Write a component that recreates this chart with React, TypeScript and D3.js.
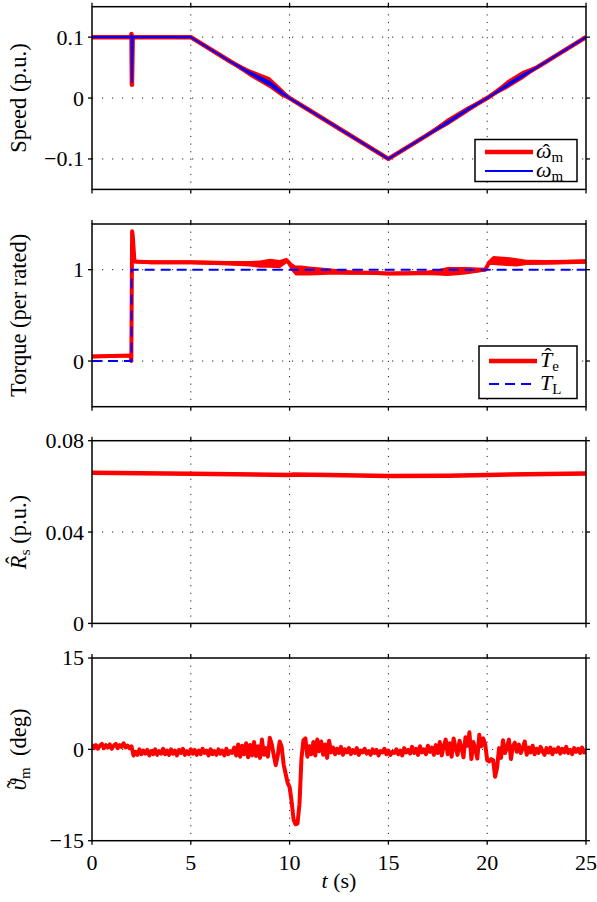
import React from 'react';
import * as d3 from 'd3';

// time axis
const xTicks = [0, 5, 10, 15, 20, 25];

// speed (p.u.): measured omega_m and estimate, plus half-width of the estimate's ripple
const speedT = [0, 1.98, 2.0, 2.02, 2.06, 5, 7, 8, 9, 9.6, 10, 11, 15, 17, 18, 19, 20, 21, 21.8, 22.5, 25];
const speedMeas = [0.1, 0.1, 0.104, 0.025, 0.1, 0.1, 0.06, 0.041, 0.024, 0.009, 0, -0.02, -0.1, -0.06, -0.04, -0.019, 0, 0.021, 0.037, 0.05, 0.1];
const speedEst = [0.1, 0.1, 0.105, 0.022, 0.1, 0.1, 0.06, 0.041, 0.025, 0.009, 0, -0.02, -0.1, -0.06, -0.039, -0.019, 0, 0.022, 0.038, 0.05, 0.1];
const speedRipple = [0.002, 0.002, 0, 0, 0.002, 0.002, 0.003, 0.006, 0.009, 0.007, 0.003, 0.003, 0.002, 0.003, 0.006, 0.005, 0.002, 0.007, 0.007, 0.003, 0.002];
const speedTicks = [-0.1, 0, 0.1];
const speedTickLabels = ['\u22120.1', '0', '0.1'];

// torque (per rated): estimate, its ripple, and load torque
const torqueT = [0, 1.95, 1.99, 2.03, 2.06, 2.15, 3, 5, 7, 8, 8.5, 9, 9.5, 9.85, 9.95, 10.1, 10.3, 10.6, 11, 12, 13, 14, 15, 16, 17, 17.5, 18, 18.5, 19, 19.5, 19.9, 20.1, 20.3, 21, 21.5, 22, 23, 24, 25];
const torqueEst = [0.05, 0.06, 0.0, 1.42, 1.38, 1.09, 1.08, 1.08, 1.07, 1.065, 1.06, 1.07, 1.06, 1.1, 1.08, 1.03, 0.99, 0.99, 0.985, 0.98, 0.97, 0.965, 0.958, 0.96, 0.965, 0.97, 0.98, 0.985, 0.99, 0.995, 1.0, 1.08, 1.1, 1.09, 1.08, 1.08, 1.08, 1.085, 1.09];
const torqueRipple = [0.02, 0.02, 0, 0, 0, 0.02, 0.02, 0.02, 0.025, 0.03, 0.04, 0.05, 0.045, 0.03, 0.03, 0.045, 0.055, 0.055, 0.05, 0.035, 0.025, 0.02, 0.02, 0.02, 0.025, 0.035, 0.05, 0.045, 0.04, 0.03, 0.02, 0.03, 0.05, 0.05, 0.045, 0.03, 0.025, 0.025, 0.025];
const loadT = [0, 2, 2, 25];
const loadV = [0, 0, 1, 1];
const torqueTicks = [0, 1];
const torqueTickLabels = ['0', '1'];

// stator resistance estimate (p.u.)
const rsT = [0, 5, 10, 10.2, 12, 15, 18, 20, 22, 25];
const rsEst = [0.066, 0.0655, 0.065, 0.0652, 0.065, 0.0645, 0.0647, 0.065, 0.0653, 0.0656];
const rsTicks = [0, 0.04, 0.08];
const rsTickLabels = ['0', '0.04', '0.08'];

// rotor angle error (deg), sampled every 0.1 s
const thetaStep = 0.1;
const thetaErr = [
  0.8, 0.2, 0.7, 0.1, 0.6, 0.9, 0.2, 0.7, 0.3, 0.8, 0.1, 0.6, 0.9, 0.2, 0.7, 0.4, 1.0, 0.3, 0.6, 0.2, 0.5,
  -1.0, -0.4, -0.9, 0.0, -0.8, -0.2, -0.7, -0.1, -1.0, -0.3,
  -0.8, 0.0, -0.9, -0.3, -0.7, 0.1, -0.8, -0.2, -0.9, 0.0,
  -0.7, -0.2, -1.0, -0.1, -0.6, 0.1, -0.9, -0.3, -0.8, 0.0,
  -0.7, -0.1, -0.9, -0.2, -0.8, 0.1, -0.6, -0.2, -1.0, 0.0,
  -0.8, -0.3, -0.9, 0.0, -0.7, -0.2, -1.0, 0.1, -0.8, -0.3,
  -0.6, 0.3, -1.0, 0.8, -1.2, 0.6, -0.8, 1.0, -1.3, 0.7,
  -1.0, 1.2, -1.1, 0.5, -1.4, 1.6, -0.9, 0.2, -1.2, 1.9,
  0.8, -1.0, -2.6, -1.0, 1.3, 0.4, -2.5, -4.0, -5.5, -6.2,
  -8.5, -11.5, -12.3, -12.2, -9.0,
  -1.5, 1.5, 1.8, -1.2, 0.5, -0.8, 1.2, -1.0, 1.6, -0.3, 1.3, -0.9, 0.8, -1.4, 1.4,
  -0.5, 0.3, -0.8, 0.1, -0.6, 0.4, -0.9, 0.0, -0.5, 0.2,
  -0.8, -0.1, -0.6, 0.2, -0.9, -0.2, -0.5, 0.1, -0.7, -0.3,
  -0.9, 0.0, -0.6, -0.1, -1.0, -0.3, -0.5, 0.1, -0.8, -0.2,
  -0.9, -0.4, -0.6, 0.0, -0.8, -0.2, -1.0, 0.2, -0.5, -0.1,
  -0.7, 0.4, -0.6, 0.1, -0.9, 0.5, -0.5, 0.0, -0.8, 0.6,
  -0.4, 0.3, -0.9, 0.7,
  -0.6, 1.2, -1.0, 0.5, 1.6, -0.8, 1.0, -1.2, 1.8, 0.2,
  -0.9, 1.4, 0.3, -1.3, 2.0, 0.6, 2.8, -1.6, 1.2, 0.0,
  -1.5, 2.4, 0.5, 1.8, 0.8,
  -1.8, -2.0, -1.6, -1.8, -4.5, -3.0, 0.2, -1.4, 1.5, -0.6,
  0.3, 1.6, -1.6, 0.5, 1.1, -0.4,
  0.8, -0.6, 0.2, 1.3, -0.9, 0.3, -0.5, 0.6, -0.8, 0.1,
  -0.6, 0.4, -0.3, -0.9, 0.2, -0.5, 0.3, -0.8, 0.0, -0.4,
  0.3, -0.7, 0.1, -0.5, 0.4, -0.6, -0.1, -0.8, 0.2, -0.4,
  0.1, -0.6, 0.3, -0.5, 0.0,
];
const thetaTicks = [-15, 0, 15];
const thetaTickLabels = ['\u221215', '0', '15'];

const W = 597;
const H = 902;
const left = 92;
const right = 586;
const panelTops = [6.7, 224, 440.7, 658];
const panelH = 182.7;
const TS = { fontFamily: "'Liberation Serif'" };
const RED = '#ff0000';
const BLUE = '#0000ff';
const TICK = 4;

const x = d3.scaleLinear().domain([0, 25]).range([left, right]);

// italic symbol with an accent (hat / tilde) and an upright subscript
function Sym({ base, accent, adx, ady, sub }: { base: string; accent?: string; adx?: number; ady?: number; sub: string }) {
  const hatW = 7.3;
  return (
    <>
      <tspan fontStyle="italic">{base}</tspan>
      {accent && <tspan dx={adx} dy={ady}>{accent}</tspan>}
      <tspan fontSize={15} dx={accent ? -(adx || 0) - hatW : 0} dy={4 - (accent ? ady || 0 : 0)}>{sub}</tspan>
    </>
  );
}

type PanelProps = {
  i: number;
  domain: number[];
  ticks: number[];
  labels: string[];
  showX?: boolean;
  label: React.ReactNode;
  children: (y: d3.ScaleLinear<number, number>) => React.ReactNode;
};

function Panel({ i, domain, ticks, labels, showX, label, children }: PanelProps) {
  const top = panelTops[i];
  const bottom = top + panelH;
  const y = d3.scaleLinear().domain(domain).range([bottom, top]);
  const inner = ticks.filter(t => t > domain[0] && t < domain[1]);
  return (
    <g>
      <defs>
        <clipPath id={'clip' + i}>
          <rect x={left} y={top} width={right - left} height={panelH} />
        </clipPath>
      </defs>
      {/* dotted grid */}
      {xTicks.slice(1, -1).map(t => (
        <line key={'gx' + t} x1={x(t)} x2={x(t)} y1={top} y2={bottom} stroke="#222" strokeWidth={1} strokeDasharray="1.2,6.4" />
      ))}
      {inner.map(t => (
        <line key={'gy' + t} x1={left} x2={right} y1={y(t)} y2={y(t)} stroke="#222" strokeWidth={1} strokeDasharray="1.2,8.8" />
      ))}
      <g clipPath={`url(#clip${i})`}>{children(y)}</g>
      <rect x={left} y={top} width={right - left} height={panelH} fill="none" stroke="#000" strokeWidth={1.5} />
      {/* outward ticks on all four sides */}
      {ticks.map(t => (
        <g key={'ty' + t}>
          <line x1={left - TICK} x2={left} y1={y(t)} y2={y(t)} stroke="#000" strokeWidth={1.3} />
          <line x1={right} x2={right + TICK} y1={y(t)} y2={y(t)} stroke="#000" strokeWidth={1.3} />
        </g>
      ))}
      {xTicks.map(t => (
        <g key={'tx' + t}>
          <line x1={x(t)} x2={x(t)} y1={top - TICK} y2={top} stroke="#000" strokeWidth={1.3} />
          <line x1={x(t)} x2={x(t)} y1={bottom} y2={bottom + TICK} stroke="#000" strokeWidth={1.3} />
        </g>
      ))}
      {ticks.map((t, k) => (
        <text key={'ly' + t} style={TS} x={left - 8} y={y(t)} dy="0.34em" textAnchor="end" fontSize={22}>{labels[k]}</text>
      ))}
      {showX && xTicks.map(t => (
        <text key={'lx' + t} style={TS} x={x(t)} y={bottom + 29} textAnchor="middle" fontSize={22}>{t}</text>
      ))}
      <text style={TS} transform={`translate(26,${top + panelH / 2}) rotate(-90)`} textAnchor="middle" fontSize={22.5}>{label}</text>
    </g>
  );
}

type Row = { color: string; w: number; dash?: string; sym: React.ReactNode };

function Legend({ bx, by, bw, bh, rowY, rows }: { bx: number; by: number; bw: number; bh: number; rowY: number[]; rows: Row[] }) {
  return (
    <g>
      <rect x={bx} y={by} width={bw} height={bh} fill="#fff" stroke="#000" strokeWidth={1.5} />
      {rows.map((r, k) => (
        <g key={k}>
          <line x1={bx + 10} x2={bx + 58} y1={rowY[k]} y2={rowY[k]} stroke={r.color} strokeWidth={r.w} strokeDasharray={r.dash} />
          <text style={TS} x={bx + 61} y={rowY[k] + 6} fontSize={22}>{r.sym}</text>
        </g>
      ))}
    </g>
  );
}

export default function App() {
  document.body.style.margin = '0';
  const sIdx = d3.range(speedT.length);
  const tIdx = d3.range(torqueT.length);

  return (
    <svg width={W} height={H} style={{ display: 'block', fontFamily: "'Liberation Serif'" }}>
      <Panel i={0} domain={[-0.15, 0.15]} ticks={speedTicks} labels={speedTickLabels} label="Speed (p.u.)">
        {y => (
          <>
            <path d={d3.area<number>().x(k => x(speedT[k])).y0(k => y(speedEst[k] - speedRipple[k])).y1(k => y(speedEst[k] + speedRipple[k]))(sIdx) || ''} fill={RED} />
            <path d={d3.line<number>().x(k => x(speedT[k])).y(k => y(speedEst[k]))(sIdx) || ''} fill="none" stroke={RED} strokeWidth={4.5} strokeLinejoin="round" />
            <path d={d3.area<number>().x(k => x(speedT[k])).y0(k => y(speedMeas[k] - speedRipple[k] * 0.5)).y1(k => y(speedMeas[k] + speedRipple[k] * 0.5))(sIdx) || ''} fill={BLUE} />
            <path d={d3.line<number>().x(k => x(speedT[k])).y(k => y(speedMeas[k]))(sIdx) || ''} fill="none" stroke={BLUE} strokeWidth={2} />
          </>
        )}
      </Panel>

      <Panel i={1} domain={[-0.5, 1.5]} ticks={torqueTicks} labels={torqueTickLabels} label="Torque (per rated)">
        {y => (
          <>
            <path d={d3.area<number>().x(k => x(torqueT[k])).y0(k => y(torqueEst[k] - torqueRipple[k])).y1(k => y(torqueEst[k] + torqueRipple[k]))(tIdx) || ''} fill={RED} />
            <path d={d3.line<number>().x(k => x(torqueT[k])).y(k => y(torqueEst[k]))(tIdx) || ''} fill="none" stroke={RED} strokeWidth={4} strokeLinejoin="round" />
            <path d={d3.line<number>().x(k => x(loadT[k])).y(k => y(loadV[k]))(d3.range(loadT.length)) || ''} fill="none" stroke={BLUE} strokeWidth={2} strokeDasharray="10,6" />
          </>
        )}
      </Panel>

      <Panel i={2} domain={[0, 0.08]} ticks={rsTicks} labels={rsTickLabels}
        label={<><Sym base="R" accent={'\u02c6'} adx={-8.5} ady={-4} sub="s" /><tspan dy={-4}> (p.u.)</tspan></>}>
        {y => (
          <path d={d3.line<number>().x(k => x(rsT[k])).y(k => y(rsEst[k]))(d3.range(rsT.length)) || ''} fill="none" stroke={RED} strokeWidth={4.5} />
        )}
      </Panel>

      <Panel i={3} domain={[-15, 15]} ticks={thetaTicks} labels={thetaTickLabels} showX
        label={<><Sym base={'\u03d1'} accent={'\u02dc'} adx={-9} ady={-3} sub="m" /><tspan dy={-4}>{'\u00a0 (deg)'}</tspan></>}>
        {y => (
          <path d={d3.line<number>().x((_, k) => x(k * thetaStep)).y(v => y(v))(thetaErr) || ''} fill="none" stroke={RED} strokeWidth={4} strokeLinejoin="round" />
        )}
      </Panel>

      <text style={TS} x={(left + right) / 2} y={888} textAnchor="middle" fontSize={22}>
        <tspan fontStyle="italic">t</tspan> (s)
      </text>

      <Legend bx={475} by={139.5} bw={102} bh={42} rowY={[152, 171]} rows={[
        { color: RED, w: 4.5, sym: <Sym base={'\u03c9'} accent={'\u02c6'} adx={-9} ady={1} sub="m" /> },
        { color: BLUE, w: 2, sym: <Sym base={'\u03c9'} sub="m" /> },
      ]} />
      <Legend bx={479} by={346} bw={98} bh={52.5} rowY={[361, 384]} rows={[
        { color: RED, w: 4.5, sym: <Sym base="T" accent={'\u02c6'} adx={-8} ady={-4} sub="e" /> },
        { color: BLUE, w: 2, dash: '10,6', sym: <Sym base="T" sub="L" /> },
      ]} />
    </svg>
  );
}
